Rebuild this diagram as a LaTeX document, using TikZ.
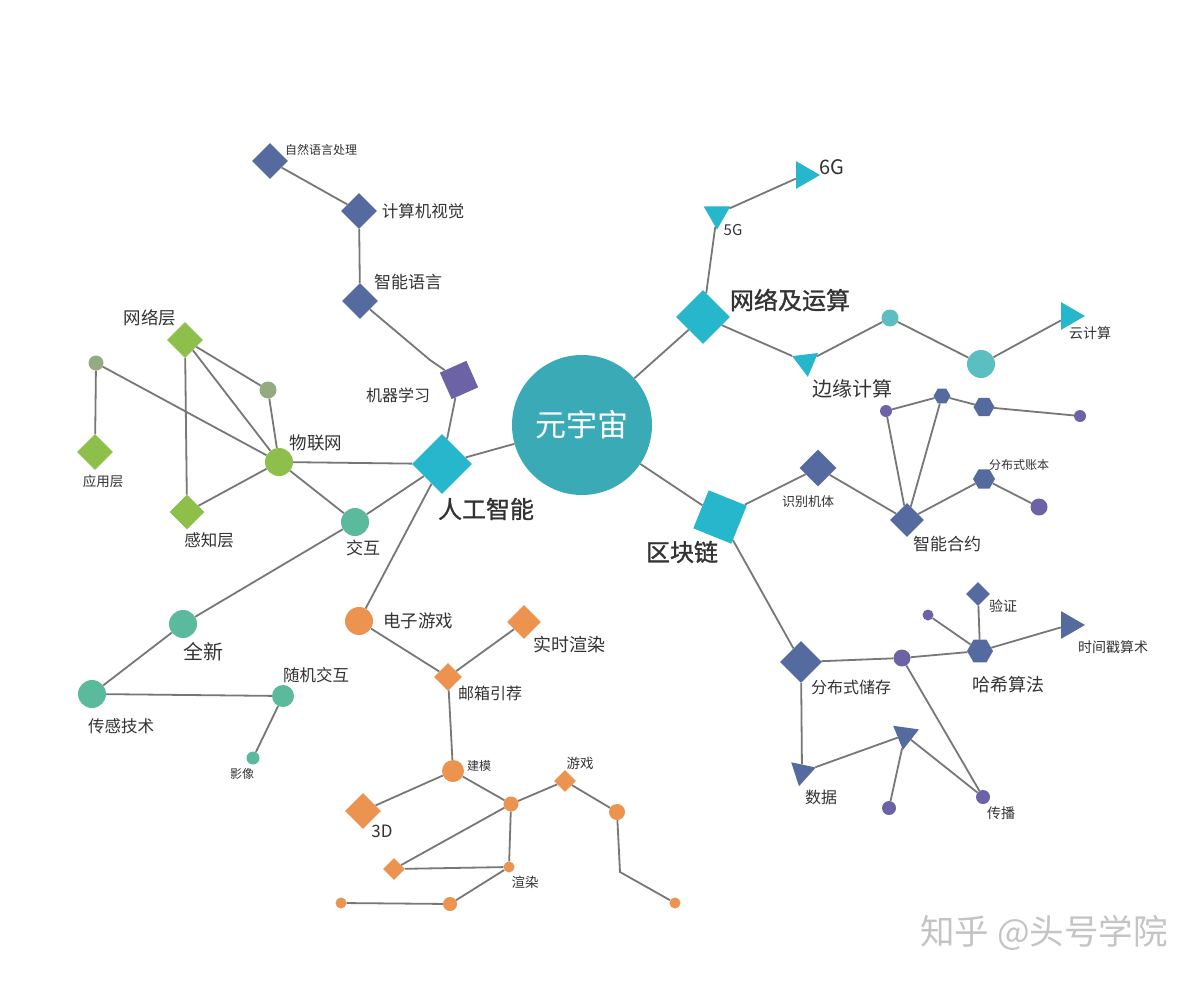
\documentclass[tikz,border=0pt]{standalone}
\usepackage{fontspec}
\setmainfont{Noto Sans CJK SC}
\newfontfamily\cjkbold[FakeBold=1.2]{Noto Sans CJK SC}
\usetikzlibrary{shapes.geometric}
\definecolor{cyanD}{HTML}{27B7CC}
\definecolor{centerC}{HTML}{3AABB6}
\definecolor{tealC}{HTML}{5BBEC0}
\definecolor{navy}{HTML}{556A9F}
\definecolor{purp}{HTML}{6C63A6}
\definecolor{greenD}{HTML}{8EBF4B}
\definecolor{greyG}{HTML}{94AB82}
\definecolor{tealG}{HTML}{5CBA9C}
\definecolor{orng}{HTML}{EC944F}
\definecolor{txt}{HTML}{333333}
\definecolor{edgeC}{HTML}{777777}
\definecolor{wm}{HTML}{C4C4C4}
\begin{document}
\begin{tikzpicture}[x=1pt,y=-1pt,
  dia/.style={diamond, draw=none, inner sep=0pt, minimum size=#1},
  cir/.style={circle, draw=none, inner sep=0pt, minimum size=#1},
  hexa/.style={regular polygon, regular polygon sides=6, draw=none, inner sep=0pt, minimum size=#1},
  tri/.style={regular polygon, regular polygon sides=3, draw=none, inner sep=0pt, minimum size=#1},
  fs/.style={font=\fontsize{#1}{#1}\selectfont, text=txt, inner sep=0pt},
  fsb/.style={font=\fontsize{#1}{#1}\selectfont\cjkbold, text=txt, inner sep=0pt},
  conn/.style={draw=edgeC, line width=1.8pt}]
\useasboundingbox[fill=white] (0,0) rectangle (1204,982);

% ---------- nodes ----------
\node[cir=140pt, fill=centerC, text=white, font=\fontsize{31}{31}\selectfont] (core) at (582,425) {元宇宙};

% network branch
\node[dia=54pt, fill=cyanD] (net) at (703,317) {};
\node[tri=31pt, fill=cyanD, shape border rotate=180] (g5) at (717,214) {};
\node[tri=32pt, fill=cyanD, shape border rotate=-90] (g6) at (804,175) {};
\node[tri=30pt, fill=cyanD, shape border rotate=-173] (edgec) at (806,362) {};
\node[cir=17pt, fill=tealC] (tc1) at (890,318) {};
\node[cir=28pt, fill=tealC] (tc2) at (981,364) {};
\node[tri=32pt, fill=cyanD, shape border rotate=-90] (cloud) at (1069,316) {};

% blockchain branch
\node[rectangle, minimum size=41pt, inner sep=0pt, fill=cyanD, rotate=-22] (chain) at (720,517) {};
\node[dia=37pt, fill=navy] (ident) at (818,468) {};
\node[dia=34pt, fill=navy] (smart) at (907,520) {};
\node[cir=12pt, fill=purp] (pc1) at (886,411) {};
\node[hexa=17pt, fill=navy] (hx1) at (942,396) {};
\node[hexa=21pt, fill=navy] (hx2) at (984,407) {};
\node[cir=12pt, fill=purp] (pc2) at (1080,416) {};
\node[hexa=22pt, fill=navy] (ledger) at (984,479) {};
\node[cir=17pt, fill=purp] (pc3) at (1039,507) {};
\node[dia=42pt, fill=navy] (store) at (801,662) {};
\node[cir=17pt, fill=purp] (pc4) at (902,658) {};
\node[hexa=26pt, fill=navy] (hash) at (980,651) {};
\node[dia=24pt, fill=navy] (verify) at (978,594) {};
\node[cir=11pt, fill=purp] (pc5) at (928,615) {};
\node[tri=32pt, fill=navy, shape border rotate=-90] (stamp) at (1069,625) {};
\node[tri=29pt, fill=navy, shape border rotate=168] (data) at (802,772) {};
\node[tri=30pt, fill=navy, shape border rotate=172] (tmid) at (905,735) {};
\node[cir=14pt, fill=purp] (pc6) at (889,808) {};
\node[cir=14pt, fill=purp] (spread) at (983,797) {};

% AI branch
\node[dia=60pt, fill=cyanD] (ai) at (442,464) {};
\node[rectangle, minimum size=29pt, inner sep=0pt, fill=purp, rotate=24] (ml) at (459,380) {};
\coordinate (kink) at (430,360);
\node[dia=36pt, fill=navy] (lang) at (360,301) {};
\node[dia=36pt, fill=navy] (cv) at (359,211) {};
\node[dia=36pt, fill=navy] (nlp) at (270,161) {};

\node[cir=28pt, fill=greenD] (iot) at (279,462) {};
\node[dia=36pt, fill=greenD] (netl) at (185,340) {};
\node[cir=15pt, fill=greyG] (gc1) at (96,363) {};
\node[cir=17pt, fill=greyG] (gc2) at (268,390) {};
\node[dia=36pt, fill=greenD] (appl) at (95,452) {};
\node[dia=35pt, fill=greenD] (perc) at (187,512) {};

\node[cir=28pt, fill=tealG] (inter) at (355,522) {};
\node[cir=28pt, fill=tealG] (new) at (183,624) {};
\node[cir=28pt, fill=tealG] (sensor) at (92,694) {};
\node[cir=22pt, fill=tealG] (rand) at (283,696) {};
\node[cir=13pt, fill=tealG] (image) at (253,758) {};

\node[cir=28pt, fill=orng] (egame) at (359,621) {};
\node[dia=28pt, fill=orng] (mail) at (448,677) {};
\node[dia=34pt, fill=orng] (rt) at (524,622) {};
\node[cir=22pt, fill=orng] (model) at (453,771) {};
\node[dia=36pt, fill=orng] (d3) at (363,811) {};
\node[cir=15pt, fill=orng] (oc1) at (511,804) {};
\node[dia=22pt, fill=orng] (game) at (565,781) {};
\node[cir=16pt, fill=orng] (oc2) at (617,812) {};
\coordinate (ocorner) at (620,872);
\node[cir=11pt, fill=orng] (oc3) at (675,903) {};
\node[dia=22pt, fill=orng] (od1) at (394,869) {};
\node[cir=11pt, fill=orng] (render) at (509,867) {};
\node[cir=14pt, fill=orng] (oc4) at (450,904) {};
\node[cir=11pt, fill=orng] (oc5) at (341,903) {};

% ---------- connectors ----------
\path[conn] (core) -- (net);
\path[conn] (net) -- (g5);
\path[conn] (g5) -- (g6);
\path[conn] (net) -- (edgec);
\path[conn] (edgec) -- (tc1);
\path[conn] (tc1) -- (tc2);
\path[conn] (tc2) -- (cloud);

\path[conn] (core) -- (chain);
\path[conn] (chain) -- (ident);
\path[conn] (ident) -- (smart);
\path[conn] (pc1) -- (hx1);
\path[conn] (hx1) -- (hx2);
\path[conn] (hx2) -- (pc2);
\path[conn] (pc1) -- (smart);
\path[conn] (hx1) -- (smart);
\path[conn] (smart) -- (ledger);
\path[conn] (ledger) -- (pc3);
\path[conn] (chain) -- (store);
\path[conn] (store) -- (pc4);
\path[conn] (pc4) -- (hash);
\path[conn] (hash) -- (verify);
\path[conn] (hash) -- (pc5);
\path[conn] (hash) -- (stamp);
\path[conn] (store) -- (data);
\path[conn] (data) -- (tmid);
\path[conn] (tmid) -- (pc6);
\path[conn] (tmid) -- (spread);
\path[conn] (pc4) -- (spread);

\path[conn] (core) -- (ai);
\path[conn] (ai) -- (ml);
\path[conn] (ml) -- (kink) -- (lang);
\path[conn] (lang) -- (cv);
\path[conn] (cv) -- (nlp);
\path[conn] (ai) -- (iot);
\path[conn] (netl) -- (perc);
\path[conn] (netl) -- (iot);
\path[conn] (netl) -- (gc2);
\path[conn] (gc2) -- (iot);
\path[conn] (gc1) -- (iot);
\path[conn] (gc1) -- (appl);
\path[conn] (perc) -- (iot);
\path[conn] (iot) -- (inter);
\path[conn] (ai) -- (inter);
\path[conn] (inter) -- (new);
\path[conn] (new) -- (sensor);
\path[conn] (sensor) -- (rand);
\path[conn] (rand) -- (image);
\path[conn] (ai) -- (egame);
\path[conn] (egame) -- (mail);
\path[conn] (mail) -- (rt);
\path[conn] (mail) -- (model);
\path[conn] (model) -- (d3);
\path[conn] (model) -- (oc1);
\path[conn] (oc1) -- (game);
\path[conn] (game) -- (oc2);
\path[conn] (oc2) -- (ocorner) -- (oc3);
\path[conn] (oc1) -- (od1);
\path[conn] (od1) -- (render);
\path[conn] (oc1) -- (render);
\path[conn] (render) -- (oc4);
\path[conn] (oc4) -- (oc5);

% ---------- labels ----------
\node[fsb=24] (lnet) at (790,300) {网络及运算};
\node[fs=15] (l5g) at (733,230) {5G};
\node[fs=20] (l6g) at (832,167) {6G};
\node[fs=20] (ledge) at (852,389) {边缘计算};
\node[fs=14] (lcloud) at (1090,333) {云计算};
\node[fsb=24] (lchain) at (682,552) {区块链};
\node[fs=13] (lident) at (808,502) {识别机体};
\node[fs=17] (lsmart) at (947,544) {智能合约};
\node[fs=12] (lledger) at (1019,465) {分布式账本};
\node[fs=14] (lverify) at (1003,606) {验证};
\node[fs=14] (lstamp) at (1113,647) {时间戳算术};
\node[fs=18] (lhash) at (1008,685) {哈希算法};
\node[fs=16] (lstore) at (851,687) {分布式储存};
\node[fs=16] (ldata) at (821,797) {数据};
\node[fs=14] (lspread) at (1001,813) {传播};

\node[fsb=24] (lai) at (486,509) {人工智能};
\node[fs=16] (lml) at (398,395) {机器学习};
\node[fs=17] (llang) at (408,282) {智能语言};
\node[fs=16.5] (lcv) at (423,211) {计算机视觉};
\node[fs=12] (lnlp) at (321,150) {自然语言处理};
\node[fs=17.5] (liot) at (316,443) {物联网};
\node[fs=17.5] (lnetl) at (150,318) {网络层};
\node[fs=13.5] (lappl) at (103,481) {应用层};
\node[fs=16.5] (lperc) at (209,540) {感知层};
\node[fs=17] (linter) at (363,548) {交互};
\node[fs=20] (lnew) at (203,652) {全新};
\node[fs=16.5] (lsensor) at (121,726) {传感技术};
\node[fs=16.5] (lrand) at (316,675) {随机交互};
\node[fs=12] (limage) at (242,774) {影像};
\node[fs=17.5] (legame) at (418,621) {电子游戏};
\node[fs=18] (lrt) at (569,645) {实时渲染};
\node[fs=16] (lmail) at (490,693) {邮箱引荐};
\node[fs=12] (lmodel) at (479,766) {建模};
\node[fs=13.5] (lgame) at (580,763) {游戏};
\node[fs=17] (l3d) at (382,831) {3D};
\node[fs=13.5] (lrender) at (525,882) {渲染};

% watermark
\node[font=\fontsize{34.5}{34.5}\selectfont, text=wm, inner sep=0pt] (water) at (1044,933) {知乎 @头号学院};
\end{tikzpicture}
\end{document}
